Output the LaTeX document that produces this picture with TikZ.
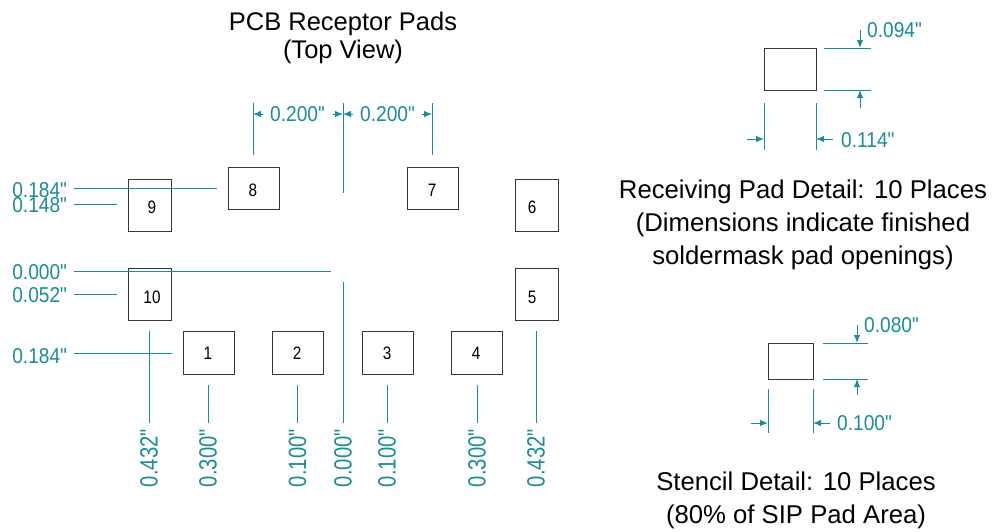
\documentclass[tikz,border=0pt]{standalone}
\usepackage{fontspec}
\setmainfont{Liberation Sans}[Ligatures=TeXOff]
\newfontfamily\padfont{Liberation Sans}[Ligatures=TeXOff,FakeStretch=0.85]
\newfontfamily\dimfont{Liberation Sans}[Ligatures=TeXOff,FakeStretch=0.89]
\newfontfamily\botfont{Liberation Sans}[Ligatures=TeXOff,FakeStretch=0.81]
\usetikzlibrary{arrows.meta}
\definecolor{dimteal}{HTML}{1B8C9A}
\definecolor{padgray}{HTML}{383838}
\tikzset{
  padwide/.style={ draw=padgray, line width=0.9pt, minimum width=51pt, minimum height=42.5pt, inner sep=0pt }
}
\tikzset{
  padtall/.style={ draw=padgray, line width=0.9pt, minimum width=43pt, minimum height=52pt, inner sep=0pt }
}
\tikzset{
  padnum/.style={ inner sep=0pt, font=\padfont\fontsize{18}{18}\selectfont }
}
\tikzset{
  dimline/.style={ draw=dimteal, line width=0.8pt }
}
\tikzset{
  dimarrow/.style={ dimline, line width=1pt, -{Latex[length=8pt,width=6.5pt]} }
}
\tikzset{
  dimtext/.style={ text=dimteal, inner sep=0pt, font=\dimfont\fontsize{21.5}{21.5}\selectfont }
}
\tikzset{
  bottext/.style={ text=dimteal, inner sep=0pt, font=\botfont\fontsize{25}{25}\selectfont }
}
\tikzset{
  caption/.style={ align=center, inner sep=0pt, font=\fontsize{25.7}{33}\selectfont }
}
\begin{document}
\begin{tikzpicture}[x=1pt, y=-1pt]
  \useasboundingbox (0, 0) rectangle (992, 531);

  \node[caption, font=\fontsize{25.5}{28}\selectfont] (title) at (343, 38) {PCB Receptor Pads\\(Top View)};
  \node[caption] (recvtext) at (803, 225) {Receiving Pad Detail: 10 Places\\(Dimensions indicate finished\\soldermask pad openings)};
  \node[caption] (stenciltext) at (796, 500.5) {Stencil Detail: 10 Places\\(80\% of SIP Pad Area)};

  % receptor pads
  \foreach \name/\x/\y/\tx/\ty in {1/208.5/353/208/353, 2/298/353/297/353, 3/388/353/387/353,
    4/477/353/476/353, 7/432.5/188.5/432/190, 8/253.5/188.5/253/190} {
    \node[padwide] (pad\name) at (\x, \y) {};
    \node[padnum] (num\name) at (\tx, \ty) {\name};
  }
  \foreach \name/\x/\y/\tx/\ty in {5/536.5/294/532/297, 6/536.5/205/532/207,
    9/149.5/205/152/207, 10/149.5/294/152/297} {
    \node[padtall] (pad\name) at (\x, \y) {};
    \node[padnum] (num\name) at (\tx, \ty) {\name};
  }

  % detail pads
  \node[draw=padgray, line width=0.9pt, minimum width=52pt, minimum height=42pt, inner sep=0pt] (recvpad) at (790, 69) {};
  \node[draw=padgray, line width=0.9pt, minimum width=45pt, minimum height=36pt, inner sep=0pt] (stencilpad) at (790.5, 361) {};

  % left labels with leaders
  \foreach \name/\y/\ty/\xend/\val in {a/188/190/217/0.184, b/204/205/117/0.148, c/271/272/331/0.000,
    d/294/295/117/0.052, e/353/356/172/0.184} {
    \node[dimtext, anchor=east, outer xsep=7pt] (left\name) at (74, \ty) {\val"};
    \coordinate (leftend\name) at (\xend, \y);
    \draw[dimline] (left\name.east |- leftend\name) -- (leftend\name);
  }

  % bottom labels with leaders
  \foreach \name/\x/\yend/\val in {a/149/331/0.432, b/208/385/0.300, c/297.5/385/0.100, d/343/282/0.000,
    e/387/385/0.100, f/477/385/0.300, g/536/331/0.432} {
    \node[bottext, rotate=90, anchor=west, outer xsep=6pt] (bot\name) at (\x, 493) {\val"};
    \coordinate (botend\name) at (\x, \yend);
    \draw[dimline] (bot\name.east) -- (botend\name);
  }

  % extension lines
  \foreach \name/\xa/\ya/\xb/\yb in {ta/253/103/253/155, tb/343/103/343/193, tc/432/103/432/155,
    ra/824/48/871/48, rb/824/90/871/90, rc/764/103/764/150, rd/816/103/816/150,
    sa/823/343/868/343, sb/823/379/868/379, sc/768/389/768/433, sd/813/389/813/433} {
    \coordinate (\name1) at (\xa, \ya);
    \coordinate (\name2) at (\xb, \yb);
    \draw[dimline] (\name1) -- (\name2);
  }

  % arrows
  \foreach \name/\xa/\ya/\xb/\yb in {ua/263/114/253/114, ub/333/114/343/114, uc/353/114/343/114, ud/422/114/432/114,
    va/860/30/860/48, vb/860/108/860/90, vc/747/139/764/139, vd/833/139/816/139,
    wa/857/325/857/343, wb/857/395/857/379, wc/751/423/768/423, wd/830/423/813/423} {
    \coordinate (\name1) at (\xa, \ya);
    \coordinate (\name2) at (\xb, \yb);
    \draw[dimarrow] (\name1) -- (\name2);
  }

  % dimension values
  \node[dimtext, anchor=west] (val1) at (270, 114.5) {0.200"};
  \node[dimtext, anchor=west] (val2) at (360, 114.5) {0.200"};
  \node[dimtext, anchor=west] (val3) at (867, 30) {0.094"};
  \node[dimtext, anchor=west] (val4) at (841, 140) {0.114"};
  \node[dimtext, anchor=west] (val5) at (864, 325) {0.080"};
  \node[dimtext, anchor=west] (val6) at (837, 423) {0.100"};
\end{tikzpicture}
\end{document}
